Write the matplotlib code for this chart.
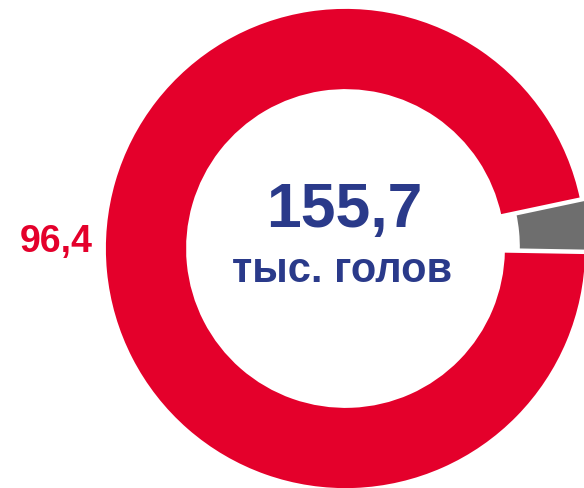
import matplotlib

matplotlib.use("Agg")
import matplotlib.pyplot as plt

plt.rcParams["font.family"] = ["Liberation Sans", "DejaVu Sans"]

# data
labels = ["Прочие", "Основная часть"]
shares = [3.6, 96.4]
colors = ["#6E6E6E", "#E4002B"]
explode = [15, 0]
total_value = "155,7"
total_unit = "тыс. голов"
side_label = "96,4"

W, H = 584, 488
fig = plt.figure(figsize=(W / 100, H / 100), dpi=100)
ax = fig.add_axes([0, 0, 1, 1])

cx, cy = 345.5, H - 248.5
ax.pie(
    shares,
    colors=colors,
    explode=explode,
    startangle=-1,
    counterclock=True,
    radius=241,
    center=(cx, cy),
    wedgeprops=dict(width=83, edgecolor="white", linewidth=2),
    frame=True,
)
ax.set_xlim(0, W)
ax.set_ylim(0, H)
ax.set_aspect("equal")
ax.axis("off")

ax.text(344, H - 226.7, total_value, ha="center", va="baseline",
        fontsize=45, fontweight="bold", color="#2A3A8A")
ax.text(342.5, H - 281.7, total_unit, ha="center", va="baseline",
        fontsize=30, fontweight="bold", color="#2A3A8A")
ax.text(56.7, H - 251.7, side_label, ha="center", va="baseline",
        fontsize=27, fontweight="bold", color="#E4002B")

fig.savefig("out.png", dpi=100)
